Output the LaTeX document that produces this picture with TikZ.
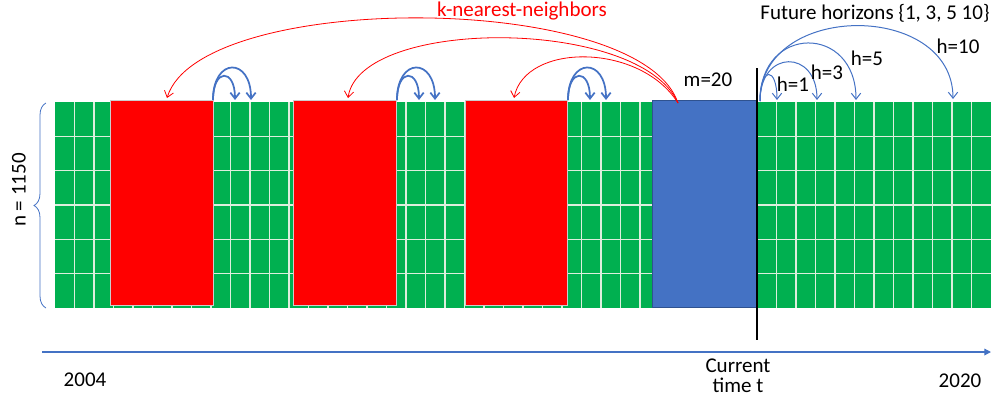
\documentclass[tikz,border=0pt]{standalone}
\usepackage{fontspec}
\setmainfont{Carlito}
\usetikzlibrary{arrows.meta,decorations.pathreplacing}

\definecolor{cellgreen}{HTML}{00B050}
\definecolor{nbred}{HTML}{FF0000}
\definecolor{winblue}{HTML}{4472C4}
\definecolor{winedge}{HTML}{2F528F}
\definecolor{gridline}{HTML}{DDEEDD}

\tikzset{
    txt/.style={font=\fontsize{15.75}{15}\selectfont, inner sep=0pt},
    nbarc/.style={draw=nbred, line width=0.6pt, -{Straight Barb[length=4.5pt,width=7pt]}},
    lagarc/.style={draw=winblue, line width=1.3pt, -{Straight Barb[length=4.5pt,width=7pt]}},
    horarc/.style={draw=winblue, line width=0.75pt, -{Straight Barb[length=4.5pt,width=7pt]}},
}

\begin{document}
\begin{tikzpicture}[x=0.75pt,y=-0.75pt]
    \useasboundingbox (0,0) rectangle (995,400);

    \fill[cellgreen] (55,102) rectangle (991,308);
    \foreach \c in {1,...,47}{
            {\draw[gridline, line width=1pt] (55+19.5*\c,102) -- (55+19.5*\c,308);}
    }
    \foreach \r in {1,...,5}{
            {\draw[gridline, line width=1pt] (55,102+34.33*\r) -- (991,102+34.33*\r);}
    }

    \draw[fill=nbred, draw=gray!40, line width=0.5pt] (110,100) rectangle (213,305);
    \draw[fill=nbred, draw=gray!40, line width=0.5pt] (293,100) rectangle (396,305);
    \draw[fill=nbred, draw=gray!40, line width=0.5pt] (465,100) rectangle (567,305);
    \draw[fill=winblue, draw=winedge, line width=0.75pt] (652,100) rectangle (757,307);

    \coordinate (nowtop) at (757,68);
    \coordinate (nowbot) at (757,340);
    \draw[line width=2pt] (nowtop) -- (nowbot);

    \coordinate (t0) at (42,352);
    \coordinate (t1) at (991,352);
    \draw[winblue, line width=0.9pt, -{Triangle[length=5pt,width=5pt]}] (t0) -- (t1);

    \coordinate (ntop) at (46,103);
    \coordinate (nbot) at (46,308);
    \draw[winblue, line width=0.6pt, decorate, decoration={brace, amplitude=9pt}] (nbot) -- (ntop);

    % neighbours found from the last window
    \coordinate (knn) at (678,103);
    \coordinate (nb1) at (167,98);
    \coordinate (nb2) at (348,98);
    \coordinate (nb3) at (514,98);
    \draw[nbarc] (knn) .. controls (640,-9.5) and (200,-9.5) .. (nb1);
    \draw[nbarc] (knn) .. controls (640,17) and (360,17) .. (nb2);
    \draw[nbarc] (knn) .. controls (640,42.5) and (525,42.5) .. (nb3);

    \foreach \s/\i in {213/1,397/2,568/3}{
            \coordinate (lag\i) at (\s,100);
            \coordinate (lag\i-a) at (\s+22,100);
            \coordinate (lag\i-b) at (\s+38,100);
            \draw[lagarc] (lag\i) .. controls (\s,68) and (\s+22,68) .. (lag\i-a);
            \draw[lagarc] (lag\i) .. controls (\s,57) and (\s+38,57) .. (lag\i-b);
    }

    % horizons after t
    \coordinate (hz) at (760,101);
    \coordinate (hz1) at (777,100);
    \coordinate (hz3) at (817,100);
    \coordinate (hz5) at (856,100);
    \coordinate (hz10) at (953,99);
    \draw[horarc] (hz) .. controls (760,66) and (777,66) .. (hz1);
    \draw[horarc] (hz) .. controls (760,49) and (817,49) .. (hz3);
    \draw[horarc] (hz) .. controls (760,24) and (856,24) .. (hz5);
    \draw[horarc] (hz) .. controls (760,1) and (953,1) .. (hz10);

    \node[txt, text=nbred] (knnlbl) at (522,11) {k-nearest-neighbors};
    \node[txt] (mlbl) at (708,80) {m=20};
    \node[txt] (futlbl) at (875,13) {Future horizons \{1, 3, 5 10\}};
    \node[txt] (h1lbl) at (793,84) {h=1};
    \node[txt] (h3lbl) at (827,72) {h=3};
    \node[txt] (h5lbl) at (867,58) {h=5};
    \node[txt] (h10lbl) at (958,46) {h=10};
    \node[txt, rotate=90] (nlbl) at (19,190) {n = 1150};
    \node[txt] (startyr) at (85,380) {2004};
    \node[txt, align=center] (curlbl) at (738,376) {Current\\time t};
    \node[txt] (endyr) at (960,381) {2020};

\end{tikzpicture}
\end{document}
